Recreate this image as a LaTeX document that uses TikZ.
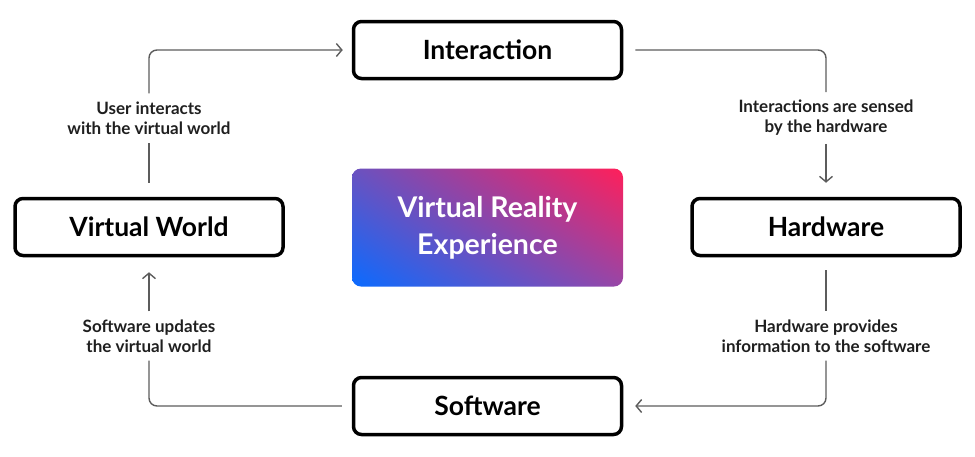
\documentclass[tikz,border=0pt]{standalone}
\usepackage{fontspec}
\setmainfont{Lato}
\usetikzlibrary{arrows.meta,shadings}
\definecolor{vrred}{HTML}{FF1F5A}
\definecolor{vrblue}{HTML}{0A6BFF}
\definecolor{vrpurpleA}{HTML}{6A52C0}
\definecolor{vrpurpleB}{HTML}{9846A6}
\definecolor{flowgray}{HTML}{5C5C5C}
\tikzset{
  stagebox/.style={draw=black,line width=3.5pt,rounded corners=8pt,fill=white,
    minimum width=268pt,minimum height=57pt,font=\fontsize{26.5}{30}\selectfont\bfseries},
  steptext/.style={align=center,inner ysep=8pt,text=black!88,
    font=\fontsize{17}{20}\selectfont\bfseries},
  flow/.style={draw=flowgray,line width=1.4pt,rounded corners=8pt},
  flowtip/.style={-{Straight Barb[length=5.5pt,width=13pt]}}
}
\begin{document}
\begin{tikzpicture}[x=1pt,y=-1pt]
\useasboundingbox(0,0)rectangle(975,456);
% centre
\node[rounded corners=9pt,minimum width=271pt,minimum height=118pt,
  upper left=vrpurpleA,upper right=vrred,lower left=vrblue,lower right=vrpurpleB,
  text=white,align=center,font=\fontsize{28.5}{37}\selectfont\bfseries]
  (vr)at(487.5,227.5){Virtual Reality\\Experience};
% stages
\foreach \n/\x/\y/\t in {inter/487.5/50/Interaction,hw/826/227/Hardware,
  soft/487.5/406/Software,vw/149/227/Virtual World}
  \node[stagebox](\n)at(\x,\y){\t};
% step labels
\foreach \n/\x/\y/\t in {l1/826/118/{Interactions are sensed\\by the hardware},
  l2/826/336/{Hardware provides\\information to the software},
  l3/149/336/{Software updates\\the virtual world},
  l4/149/118/{User interacts\\with the virtual world}}
  \node[steptext](\n)at(\x,\y){\t};
% cycle
\draw[flow,shorten <=12pt](inter.east)-|(l1.north);
\draw[flow,flowtip,shorten >=14pt](l1.south)--(hw.north);
\draw[flow,shorten <=13pt](hw.south)--(l2.north);
\draw[flow,flowtip,shorten >=12pt](l2.south)|-(soft.east);
\draw[flow,shorten <=10pt](soft.west)-|(l3.south);
\draw[flow,flowtip,shorten >=15pt](l3.north)--(vw.south);
\draw[flow,shorten <=14pt](vw.north)--(l4.south);
\draw[flow,flowtip,shorten >=9pt](l4.north)|-(inter.west);
\end{tikzpicture}
\end{document}
